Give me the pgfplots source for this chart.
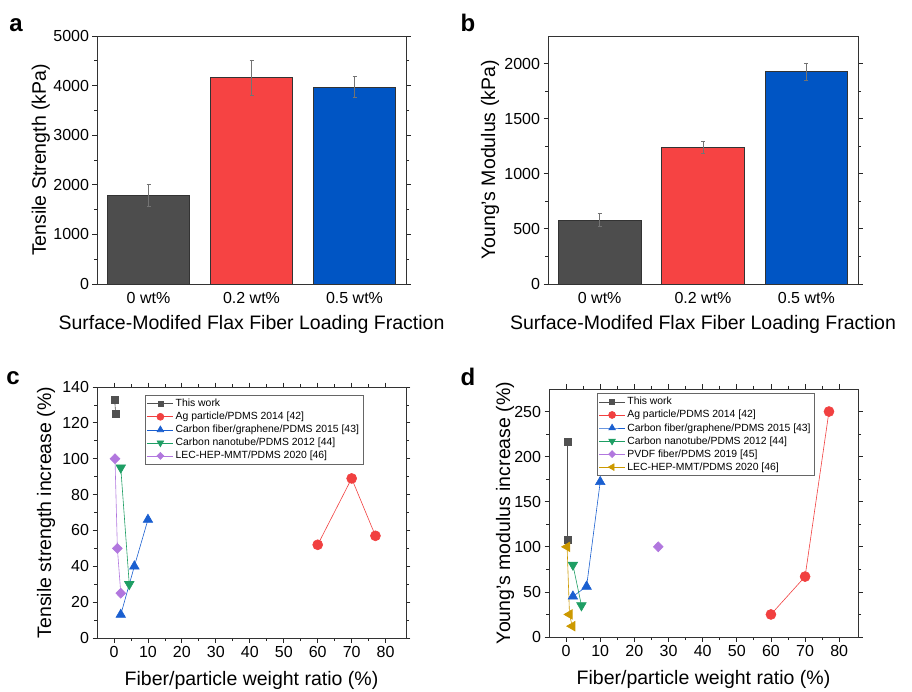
\documentclass[border=0pt]{standalone}
\usepackage{pgfplots}
\pgfplotsset{compat=1.18}
\usepackage{fontspec}
\setmainfont{Liberation Sans}

\definecolor{barGray}{HTML}{4D4D4D}
\definecolor{barRed}{HTML}{F64343}
\definecolor{barBlue}{HTML}{0055C4}
\definecolor{cGray}{HTML}{515151}
\definecolor{cRed}{HTML}{F14040}
\definecolor{cBlue}{HTML}{1A5FD0}
\definecolor{cGreen}{HTML}{1E9E64}
\definecolor{cPurple}{HTML}{B177DE}
\definecolor{cOrange}{HTML}{CC9900}

\pgfplotsset{
  panel/.style={
    scale only axis, anchor=south west,
    tick align=outside, xtick pos=both, ytick pos=both,
    axis line style={draw=black!80, line width=0.8pt},
    tick style={black!85, line width=0.8pt},
    major tick length=4.5pt, minor tick length=3pt,
    /pgf/number format/assume math mode=true,
    /pgf/number format/1000 sep={},
    scaled ticks=false,
    tick label style={font=\fontsize{16}{19}\selectfont},
    label style={font=\fontsize{19.5}{23}\selectfont},
  },
  barpanel/.style={
    panel, xmin=-0.5, xmax=2.5, ymin=0,
    xtick={0,1,2}, xtick style={draw=none},
    xticklabels={0 wt\%, 0.2 wt\%, 0.5 wt\%},
    minor y tick num=1,
    xlabel={Surface-Modifed Flax Fiber Loading Fraction},
    xlabel style={at={(axis description cs:0.5,-0.165)}, anchor=center},
  },
  errs/.style={
    ybar, bar width=0.8, bar shift=0pt, draw=black!80, line width=0.5pt,
    error bars/y dir=both, error bars/y explicit,
    error bars/error bar style={black!55, line width=0.6pt},
    error bars/error mark options={rotate=90, mark size=2pt, black!55, line width=0.6pt},
  },
  scpanel/.style={
    panel, xmin=-5, xmax=86, ymin=0,
    xtick={0,10,...,80}, minor x tick num=1, minor y tick num=1,
    xlabel={Fiber/particle weight ratio (\%)},
    xlabel style={at={(axis description cs:0.5,-0.17)}, anchor=center},
    legend cell align=left,
    legend style={anchor=north west, draw=black!60, fill=white,
      font=\fontsize{10.4}{11.5}\selectfont, inner sep=2pt, row sep=0pt},
    legend image code/.code={
      \draw[mark repeat=2, mark phase=2, every mark/.append style={scale=0.7}]
        plot coordinates {(0pt,0pt) (13pt,0pt) (26pt,0pt)};},
  },
}

\begin{document}
\begin{tikzpicture}
\path[use as bounding box] (0pt,0pt) rectangle (912pt,691pt);

% a
\begin{axis}[barpanel, at={(97pt,407pt)}, width=309pt, height=248pt,
  ymax=5000, ytick={0,1000,...,5000},
  ylabel={Tensile Strength (kPa)},
  ylabel style={at={(axis description cs:-0.182,0.5)}, anchor=center}]
\addplot[errs, fill=barGray] coordinates {(0,1790) +- (0,220)};
\addplot[errs, fill=barRed] coordinates {(1,4160) +- (0,360)};
\addplot[errs, fill=barBlue] coordinates {(2,3975) +- (0,215)};
\end{axis}

% b
\begin{axis}[barpanel, at={(548pt,407pt)}, width=310pt, height=248pt,
  ymax=2250, ytick={0,500,...,2000},
  ylabel={Young's Modulus (kPa)},
  ylabel style={at={(axis description cs:-0.187,0.5)}, anchor=center}]
\addplot[errs, fill=barGray] coordinates {(0,582) +- (0,55)};
\addplot[errs, fill=barRed] coordinates {(1,1240) +- (0,53)};
\addplot[errs, fill=barBlue] coordinates {(2,1927) +- (0,78)};
\end{axis}

% c
\begin{axis}[scpanel, at={(97pt,53pt)}, width=309pt, height=251pt,
  ymax=140, ytick={0,20,...,140},
  ylabel={Tensile strength increase (\%)},
  ylabel style={at={(axis description cs:-0.165,0.5)}, anchor=center},
  legend style={at={(axis description cs:0.155,0.968)}}]
\addplot[cGray, line width=0.6pt, mark=square*, mark size=3.5pt, mark options={fill=cGray}]
  coordinates {(0.2,133) (0.5,125)};
\addlegendentry{This work}
\addplot[cRed, line width=0.6pt, mark=*, mark size=5pt, mark options={fill=cRed}]
  coordinates {(60,52) (70,89) (77,57)};
\addlegendentry{Ag particle/PDMS 2014 [42]}
\addplot[cBlue, line width=0.6pt, mark=triangle*, mark size=5.5pt, mark options={fill=cBlue}]
  coordinates {(2,13) (6,40) (10,66)};
\addlegendentry{Carbon fiber/graphene/PDMS 2015 [43]}
\addplot[cGreen, line width=0.6pt, mark=triangle*, mark size=5.5pt, mark options={fill=cGreen, rotate=180}]
  coordinates {(2,95) (4.5,30)};
\addlegendentry{Carbon nanotube/PDMS 2012 [44]}
\addplot[cPurple, line width=0.6pt, mark=diamond*, mark size=5pt, mark options={fill=cPurple, xscale=1.3}]
  coordinates {(0.3,100) (1,50) (2,25)};
\addlegendentry{LEC-HEP-MMT/PDMS 2020 [46]}
\end{axis}

% d
\begin{axis}[scpanel, at={(549pt,54pt)}, width=309pt, height=248pt,
  xmax=85.5, ymax=275, ytick={0,50,...,250},
  ylabel={Young's modulus increase (\%)},
  ylabel style={at={(axis description cs:-0.142,0.5)}, anchor=center},
  legend style={at={(axis description cs:0.154,0.983)}}]
\addplot[cGray, line width=0.6pt, mark=square*, mark size=3.5pt, mark options={fill=cGray}]
  coordinates {(0.5,216) (0.5,108)};
\addlegendentry{This work}
\addplot[cRed, line width=0.6pt, mark=*, mark size=5pt, mark options={fill=cRed}]
  coordinates {(60,25) (70,67) (77,250)};
\addlegendentry{Ag particle/PDMS 2014 [42]}
\addplot[cBlue, line width=0.6pt, mark=triangle*, mark size=5.5pt, mark options={fill=cBlue}]
  coordinates {(2,45) (6,56) (10,172)};
\addlegendentry{Carbon fiber/graphene/PDMS 2015 [43]}
\addplot[cGreen, line width=0.6pt, mark=triangle*, mark size=5.5pt, mark options={fill=cGreen, rotate=180}]
  coordinates {(2,80) (4.5,35)};
\addlegendentry{Carbon nanotube/PDMS 2012 [44]}
\addplot[cPurple, line width=0.6pt, mark=diamond*, mark size=5pt, mark options={fill=cPurple, xscale=1.3}]
  coordinates {(27,100)};
\addlegendentry{PVDF fiber/PDMS 2019 [45]}
\addplot[cOrange, line width=0.6pt, mark=triangle*, mark size=5.5pt, mark options={fill=cOrange, rotate=90}]
  coordinates {(0.3,100) (1,25) (1.8,12)};
\addlegendentry{LEC-HEP-MMT/PDMS 2020 [46]}
\end{axis}

% panel letters
\node[font=\fontsize{24}{28}\bfseries\selectfont] at (16pt,666pt) {a};
\node[font=\fontsize{24}{28}\bfseries\selectfont] at (468pt,668pt) {b};
\node[font=\fontsize{24}{28}\bfseries\selectfont] at (13pt,313pt) {c};
\node[font=\fontsize{24}{28}\bfseries\selectfont] at (468pt,314pt) {d};
\end{tikzpicture}
\end{document}
